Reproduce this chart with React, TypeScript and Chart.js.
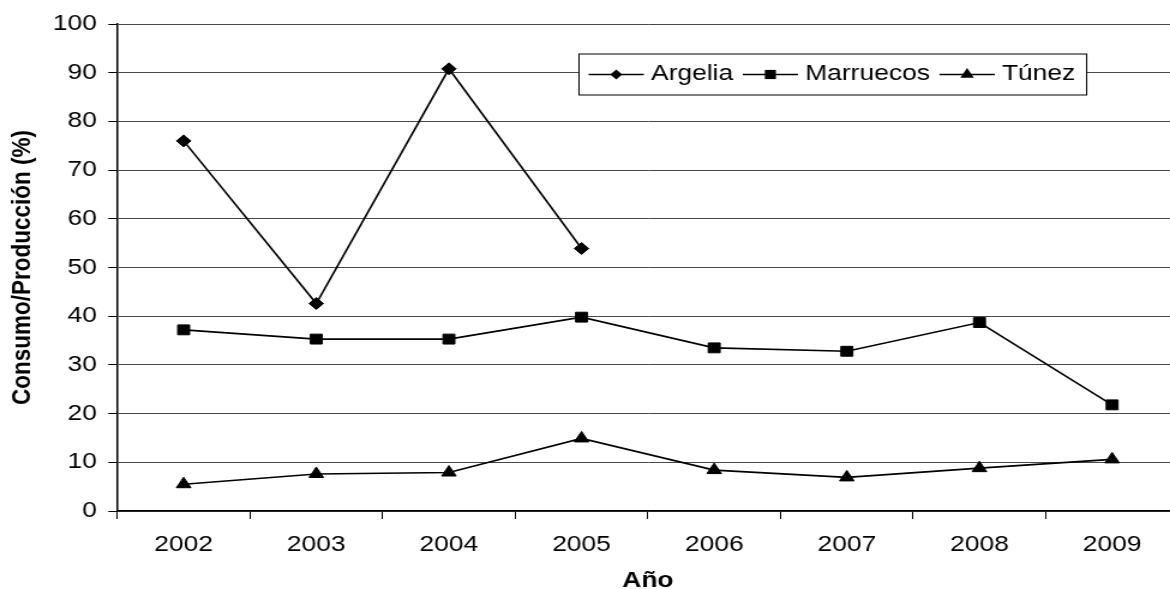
import React, { useEffect, useRef } from "react";
import { Chart, registerables } from "chart.js";

Chart.register(...registerables);

// Categories and series (Consumo/Producción, %)
const years = ["2002", "2003", "2004", "2005", "2006", "2007", "2008", "2009"];
const argelia: (number | null)[] = [76.0, 42.6, 90.8, 53.9, null, null, null, null];
const marruecos: number[] = [37.2, 35.3, 35.3, 39.8, 33.5, 32.8, 38.7, 21.8];
const tunez: number[] = [5.5, 7.6, 7.9, 14.9, 8.4, 6.9, 8.8, 10.6];

const seriesNames = ["Argelia", "Marruecos", "Túnez"];
const yAxisTitle = "Consumo/Producción (%)";
const xAxisTitle = "Año";

const FONT = "'Liberation Sans', Arial, Helvetica, sans-serif";
const CANVAS_W = 990;
const CANVAS_H = 595;
const STRETCH = 1.2;

function drawMarker(ctx: CanvasRenderingContext2D, style: string, x: number, y: number, r: number) {
  ctx.beginPath();
  if (style === "rectRot") {
    ctx.moveTo(x, y - r);
    ctx.lineTo(x + r, y);
    ctx.lineTo(x, y + r);
    ctx.lineTo(x - r, y);
  } else if (style === "rect") {
    const s = r * Math.SQRT1_2;
    ctx.rect(x - s, y - s, 2 * s, 2 * s);
  } else {
    ctx.moveTo(x, y - r);
    ctx.lineTo(x + Math.sin((2 * Math.PI) / 3) * r, y + 0.5 * r);
    ctx.lineTo(x - Math.sin((2 * Math.PI) / 3) * r, y + 0.5 * r);
  }
  ctx.closePath();
  ctx.fill();
}

// Boxed legend with a line + marker sample per series
const boxedLegend = {
  id: "boxedLegend",
  afterDraw(chart: any) {
    const ctx: CanvasRenderingContext2D = chart.ctx;
    const left = 482;
    const top = 53.5;
    const height = 41;
    const padL = 8.5;
    const padR = 9;
    const lineLen = 46;
    const gapText = 6;
    const gapItem = 8;
    const cy = top + height / 2;
    ctx.save();
    ctx.font = `22px ${FONT}`;
    const items = chart.data.datasets.map((ds: any) => ({
      label: ds.label,
      style: ds.pointStyle,
      r: ds.pointStyle === "triangle" ? 6.5 : ds.pointStyle === "rect" ? 6.5 : 5,
      w: ctx.measureText(ds.label).width,
    }));
    let width = padL + padR;
    items.forEach((it: any, i: number) => {
      width += lineLen + gapText + it.w + (i > 0 ? gapItem : 0);
    });
    ctx.fillStyle = "#ffffff";
    ctx.fillRect(left, top, width, height);
    ctx.strokeStyle = "#000000";
    ctx.lineWidth = 1;
    ctx.strokeRect(left + 0.5, top + 0.5, width, height);
    let x = left + padL;
    items.forEach((it: any, i: number) => {
      if (i > 0) x += gapItem;
      ctx.strokeStyle = "#000";
      ctx.lineWidth = 1.4;
      ctx.beginPath();
      ctx.moveTo(x, cy + 0.5);
      ctx.lineTo(x + lineLen, cy + 0.5);
      ctx.stroke();
      ctx.fillStyle = "#000";
      drawMarker(ctx, it.style, x + lineLen / 2, cy + 0.5, it.r);
      x += lineLen + gapText;
      ctx.fillStyle = "#000";
      ctx.textAlign = "left";
      ctx.textBaseline = "middle";
      ctx.fillText(it.label, x, cy);
      x += it.w;
    });
    ctx.restore();
  },
};

export default function App() {
  const canvasRef = useRef<HTMLCanvasElement | null>(null);

  useEffect(() => {
    if (!canvasRef.current) return;
    const lineDs = (label: string, data: (number | null)[], pointStyle: string, radius: number) => ({
      label,
      data,
      borderColor: "#000000",
      backgroundColor: "#000000",
      borderWidth: 1.6,
      pointStyle,
      pointRadius: radius,
      pointHoverRadius: radius,
      pointBackgroundColor: "#000000",
      pointBorderColor: "#000000",
      pointBorderWidth: 1,
      tension: 0,
      spanGaps: false,
      fill: false,
    });

    const chart = new Chart(canvasRef.current, {
      type: "line",
      data: {
        labels: years,
        datasets: [
          lineDs(seriesNames[0], argelia, "rectRot", 6),
          lineDs(seriesNames[1], marruecos, "rect", 7),
          lineDs(seriesNames[2], tunez, "triangle", 7),
        ],
      },
      plugins: [boxedLegend],
      options: {
        responsive: false,
        maintainAspectRatio: false,
        animation: false,
        events: [],
        layout: { padding: { top: 24, right: 4, left: 0, bottom: 0 } },
        plugins: {
          legend: { display: false },
          tooltip: { enabled: false },
          title: { display: false },
        },
        scales: {
          x: {
            type: "category",
            offset: true,
            afterFit(scale: any) {
              scale.height = 84;
            },
            grid: {
              display: true,
              offset: true,
              drawOnChartArea: false,
              drawTicks: true,
              tickLength: 8,
              tickColor: "#000000",
              tickWidth: 1,
            },
            border: { display: true, color: "#000000", width: 1.5 },
            ticks: {
              color: "#000000",
              padding: 15,
              maxRotation: 0,
              autoSkip: false,
              font: { family: FONT, size: 22, lineHeight: 1 },
            },
            title: {
              display: true,
              text: xAxisTitle,
              color: "#000000",
              padding: { top: 0, bottom: 3 },
              font: { family: FONT, size: 22, weight: "bold", lineHeight: 1 },
            },
          },
          y: {
            min: 0,
            max: 100,
            afterFit(scale: any) {
              scale.width = 97.75;
            },
            grid: {
              color: "#4a4a4a",
              lineWidth: 1,
              drawTicks: true,
              tickLength: 7.5,
              tickColor: "#000000",
              tickWidth: 1,
            },
            border: { display: true, color: "#000000", width: 1.5 },
            ticks: {
              stepSize: 10,
              color: "#000000",
              padding: 9.6,
              font: { family: FONT, size: 22, lineHeight: 1 },
            },
            title: {
              display: true,
              text: yAxisTitle,
              color: "#000000",
              padding: { top: 8, bottom: 0 },
              font: { family: FONT, size: 22.5, weight: "bold", lineHeight: 1 },
            },
          },
        },
      } as any,
    });

    return () => chart.destroy();
  }, []);

  return (
    <div
      style={{
        position: "absolute",
        left: 0,
        top: 0,
        width: 1170,
        height: 589,
        overflow: "hidden",
        background: "#ffffff",
      }}
    >
      <div
        style={{
          width: CANVAS_W,
          height: CANVAS_H,
          transform: `scaleX(${STRETCH})`,
          transformOrigin: "0 0",
        }}
      >
        <canvas ref={canvasRef} width={CANVAS_W} height={CANVAS_H} style={{ display: "block" }} />
      </div>
    </div>
  );
}
